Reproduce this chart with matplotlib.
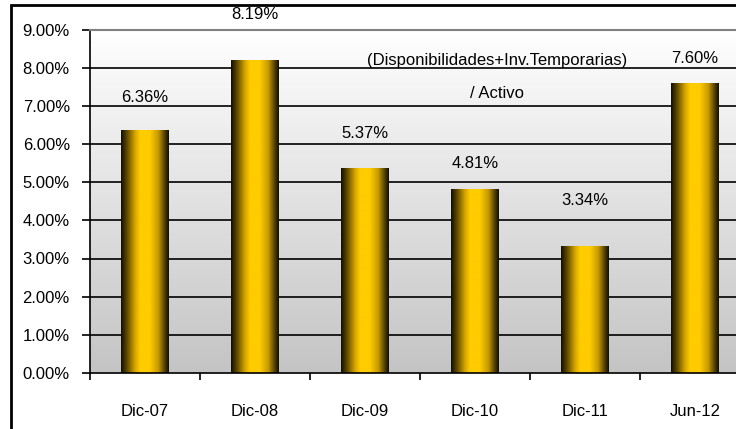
import matplotlib.pyplot as plt
import numpy as np
from matplotlib.colors import LinearSegmentedColormap
from matplotlib.patches import Rectangle
from matplotlib.ticker import PercentFormatter

plt.rcParams['font.family'] = ['Liberation Sans', 'DejaVu Sans']

categorias = ['Dic-07', 'Dic-08', 'Dic-09', 'Dic-10', 'Dic-11', 'Jun-12']
valores = [6.36, 8.19, 5.37, 4.81, 3.34, 7.60]
etiquetas = ['6.36%', '8.19%', '5.37%', '4.81%', '3.34%', '7.60%']
# distancia de cada etiqueta sobre su barra (en puntos porcentuales)
desfase = [0.86, 1.21, 0.91, 0.69, 1.19, 0.65]

fig = plt.figure(figsize=(7.36, 4.29), dpi=100)
ax = fig.add_axes([90 / 736, 56 / 429, 660 / 736, 343.5 / 429])

# marco exterior
fig.patches.append(Rectangle((10.5 / 736, -0.1), 1.2, (429 - 5.5) / 429 + 0.1,
                             transform=fig.transFigure, fill=False,
                             edgecolor='black', linewidth=2))

# fondo degradado (gris abajo, blanco arriba)
fondo = np.linspace(1, 0, 256).reshape(-1, 1)
cm_fondo = LinearSegmentedColormap.from_list('fondo', ['#ffffff', '#c4c4c4'])
ax.imshow(fondo, cmap=cm_fondo, aspect='auto', origin='lower',
          extent=(-0.5, 5.5, 0, 9), zorder=0)

# lineas de division
for y in range(1, 9):
    ax.axhline(y, color='black', linewidth=1.2, zorder=1)

# barras con degradado horizontal
cm_barra = LinearSegmentedColormap.from_list('barra', [
    (0.0, '#120e00'), (0.12, '#5c4700'), (0.3, '#d9a800'), (0.4, '#ffcc00'),
    (0.6, '#ffcc00'), (0.78, '#c79a00'), (0.92, '#4d3b00'), (1.0, '#120e00')])
grad = np.linspace(0, 1, 256).reshape(1, -1)
x = np.arange(len(categorias))
ancho = 0.43
barras = ax.bar(x, valores, width=ancho, color='none', zorder=2)
for b in barras:
    img = ax.imshow(grad, cmap=cm_barra, aspect='auto', zorder=2,
                    extent=(b.get_x(), b.get_x() + b.get_width(), 0, b.get_height()))
    img.set_clip_path(b)

for xi, v, t, d in zip(x, valores, etiquetas, desfase):
    ax.text(xi, v + d, t, ha='center', va='center', fontsize=12, clip_on=False)

ax.text(3.2, 8.2, '(Disponibilidades+Inv.Temporarias)', ha='center',
        va='center', fontsize=12)
ax.text(3.2, 7.32, '/ Activo', ha='center', va='center', fontsize=12)

ax.set_xlim(-0.5, len(categorias) - 0.5)
ax.set_ylim(0, 9)

ax.yaxis.set_major_formatter(PercentFormatter(decimals=2))
ax.set_yticks(np.arange(0, 10, 1))
ax.tick_params(axis='y', direction='out', length=6, width=1.2, pad=8.5,
               labelsize=12)
ax.set_xticks(x)
ax.set_xticklabels(categorias)
ax.set_xticks(np.arange(-0.5, 6, 1), minor=True)
ax.tick_params(axis='x', which='major', length=0, pad=22, labelsize=12)
ax.tick_params(axis='x', which='minor', direction='out', length=5, width=1.2)

ax.spines[['left', 'bottom']].set_linewidth(1.2)
ax.spines['top'].set_color('#808080')
ax.spines['top'].set_linewidth(1.5)
ax.spines['right'].set_visible(False)

fig.savefig('out.png', dpi=100)
